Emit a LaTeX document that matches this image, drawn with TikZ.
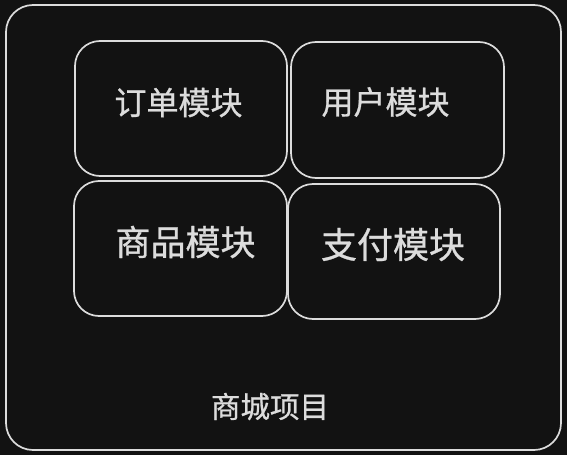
\documentclass[tikz,border=0pt]{standalone}
\usepackage{fontspec}
\newfontfamily\cjk[FakeBold=0.8]{Noto Sans CJK SC}
\definecolor{bg}{HTML}{121212}
\definecolor{ink}{HTML}{DCDCDC}
\begin{document}
\begin{tikzpicture}[x=1pt,y=-1pt,
  box/.style={draw=ink,line width=1.7pt,rounded corners=25pt},
  lbl/.style={text=ink,inner sep=0pt,font=\cjk}]
\fill[bg] (0,0) rectangle (567,455);
\useasboundingbox (0,0) rectangle (567,455);
\draw[box,rounded corners=27pt] (6,5) rectangle (561,450);
\draw[box] (75,41) rectangle (287,176);
\draw[box] (291,42) rectangle (504,178);
\draw[box] (74,181) rectangle (287,316);
\draw[box] (288,184) rectangle (500,319);
\node[lbl,font=\cjk\fontsize{32}{32}\selectfont] (a) at (178.5,102.5) {订单模块};
\node[lbl,font=\cjk\fontsize{32}{32}\selectfont] (b) at (385.5,102) {用户模块};
\node[lbl,font=\cjk\fontsize{35}{35}\selectfont] (c) at (185.5,242) {商品模块};
\node[lbl,font=\cjk\fontsize{36}{36}\selectfont] (d) at (393,244.5) {支付模块};
\node[lbl,font=\cjk\fontsize{29.5}{29.5}\selectfont] (e) at (270,406.5) {商城项目};
\end{tikzpicture}
\end{document}
